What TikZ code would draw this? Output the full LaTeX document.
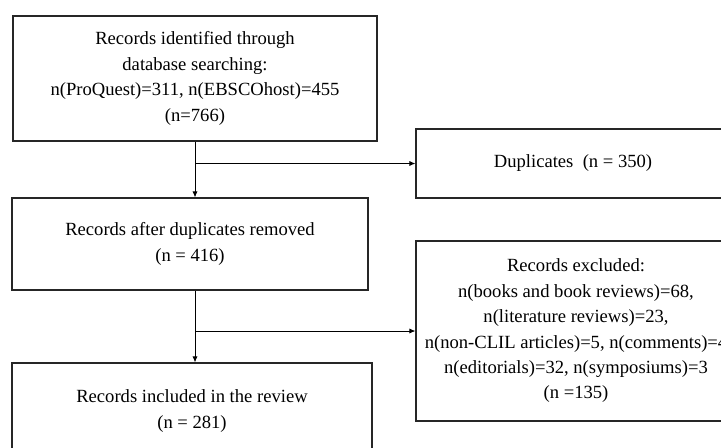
\documentclass[tikz,border=0pt]{standalone}
\usepackage{fontspec}
\setmainfont{Liberation Serif}
\usetikzlibrary{arrows.meta}
\begin{document}
\begin{tikzpicture}[x=0.5pt,y=-0.5pt,>={Latex[length=3pt,width=2.6pt]},
  box/.style={draw=black!85,line width=0.6pt,align=center,inner sep=0pt,
    font=\fontsize{9.3}{12.7}\selectfont},
  link/.style={line width=0.45pt}]
\useasboundingbox (0,0) rectangle (721,447);
\clip (0,0) rectangle (721,447);
\fill[white] (0,0) rectangle (721,447);
\node[box,minimum width=182pt,minimum height=62.5pt] (A) at (195,78.5){Records identified through\\ database searching:\\ n(ProQuest)=311, n(EBSCOhost)=455\\ (n=766)};
\node[box,minimum width=178pt,minimum height=46pt] (B) at (190,244){Records after duplicates removed\\ (n = 416)};
\node[box,minimum width=180pt,minimum height=48pt] (C) at (192,411){Records included in the review\\ (n = 281)};
\node[box,minimum width=157pt,minimum height=34.5pt] (D) at (573,163.5){Duplicates\ \ (n = 350)};
\node[box,minimum width=160pt,minimum height=90pt] (E) at (576,331){Records excluded:\\ n(books and book reviews)=68,\\ n(literature reviews)=23,\\ n(non-CLIL articles)=5, n(comments)=4\\ n(editorials)=32, n(symposiums)=3\\ (n =135)};
\draw[link,->] (A.south) -- (A.south |- B.north);
\draw[link,->] (A.south |- B.south) -- (A.south |- C.north);
\draw[link,->] (A.south |- D.west) -- (D.west);
\draw[link,->] (A.south |- E.west) -- (E.west);
\end{tikzpicture}
\end{document}
